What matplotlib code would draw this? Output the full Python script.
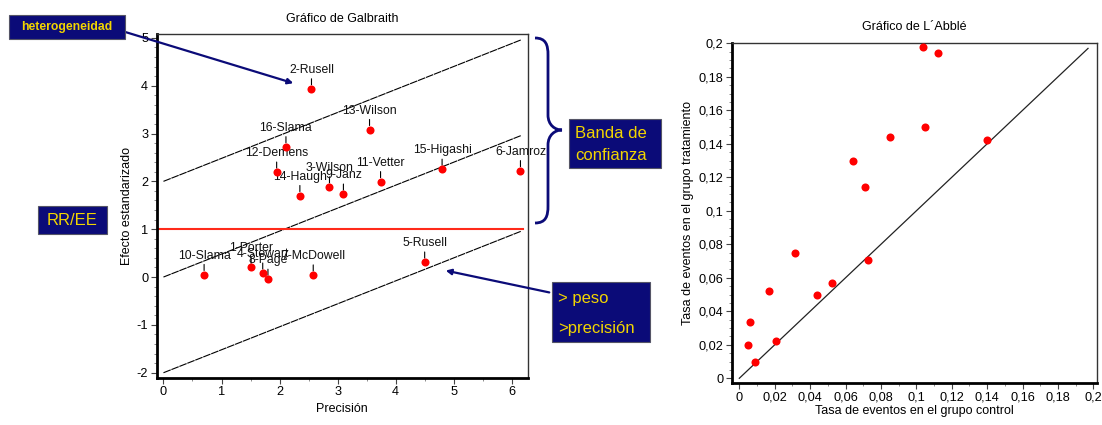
"""
Galbraith and L'Abbe plots for a meta-analysis (two panels, annotated)
"""

import matplotlib
matplotlib.use('Agg')
import matplotlib.pyplot as plt
from matplotlib.path import Path
from matplotlib.patches import PathPatch
from matplotlib.ticker import MultipleLocator, FixedLocator

plt.rcParams['font.family'] = ['Liberation Sans', 'DejaVu Sans']
plt.rcParams['axes.unicode_minus'] = False

# --- Galbraith data (precision, standardized effect) ---
study_labels = ['2-Rusell', '13-Wilson', '16-Slama', '12-Demens', '14-Haugh',
                '3-Wilson', '9-Janz', '11-Vetter', '15-Higashi', '6-Jamroz',
                '10-Slama', '1-Porter', '4-Stewart', '8-Page', '7-McDowell', '5-Rusell']
precision = [2.55, 3.55, 2.11, 1.95, 2.35, 2.86, 3.10, 3.74, 4.80, 6.15,
             0.70, 1.51, 1.71, 1.80, 2.58, 4.50]
std_effect = [3.93, 3.08, 2.72, 2.19, 1.70, 1.88, 1.73, 1.99, 2.25, 2.22,
              0.05, 0.20, 0.08, -0.05, 0.04, 0.31]
band_slope = 0.48
band_intercepts = [-2, 0, 2]
band_x = [0, 6.16]
ref_effect = 1.0
galb_xticks = [0, 1, 2, 3, 4, 5, 6]
galb_yticks = [-2, -1, 0, 1, 2, 3, 4, 5]

# --- L'Abbe data (control rate, treatment rate) ---
control_rate = [0.104, 0.112, 0.105, 0.085, 0.064, 0.071, 0.140, 0.0313,
                0.0166, 0.006, 0.0047, 0.009, 0.0209, 0.0437, 0.0524, 0.0725]
treat_rate = [0.198, 0.194, 0.150, 0.144, 0.130, 0.114, 0.142, 0.0746,
              0.052, 0.0334, 0.0197, 0.010, 0.0225, 0.0498, 0.0571, 0.0704]
diag_x = [0, 0.197]
labbe_ticks = [0, 0.02, 0.04, 0.06, 0.08, 0.1, 0.12, 0.14, 0.16, 0.18, 0.2]
labbe_ticklabels = ['0', '0,02', '0,04', '0,06', '0,08', '0,1',
                    '0,12', '0,14', '0,16', '0,18', '0,2']

NAVY = '#0b0b78'
YELLOW = '#f2d500'
W, H = 1102, 425


def fx(px):
    return px / W


def fy(py):
    return 1 - py / H


def style_axes(ax):
    for side in ['top', 'right']:
        ax.spines[side].set_linewidth(1.0)
        ax.spines[side].set_color('#333333')
    for side in ['left', 'bottom']:
        ax.spines[side].set_linewidth(2.0)
        ax.spines[side].set_color('black')
    ax.tick_params(which='major', direction='out', length=4, width=0.8,
                   labelsize=9.2, color='#444444', pad=2)
    ax.tick_params(which='minor', direction='out', length=2, width=0.6,
                   color='#777777')


fig = plt.figure(figsize=(W / 100, H / 100), dpi=100)

# ---------------- Galbraith ----------------
ax1 = fig.add_axes([fx(156.5), fy(378), fx(528) - fx(156.5), fy(33.5) - fy(378)])
for c in band_intercepts:
    ax1.plot(band_x, [band_slope * band_x[0] + c, band_slope * band_x[1] + c],
             color='black', lw=0.8, dashes=(7, 0.7))
ax1.plot([-0.08, 6.2], [ref_effect, ref_effect], color='#ff2a1a', lw=1.5)
ax1.plot(precision, std_effect, 'o', color='red', markersize=5.8,
         markeredgewidth=0, zorder=5)
for lab, x, y in zip(study_labels, precision, std_effect):
    ax1.annotate(lab, xy=(x, y), xytext=(0, 13), textcoords='offset pixels',
                 ha='center', va='bottom', fontsize=8.8, color='#111111',
                 arrowprops=dict(arrowstyle='-', color='black', lw=0.8,
                                 shrinkA=0, shrinkB=3))
ax1.set_xlim(-0.12, 6.28)
ax1.set_ylim(-2.11, 5.09)
ax1.set_xticks(galb_xticks)
ax1.set_yticks(galb_yticks)
ax1.xaxis.set_minor_locator(MultipleLocator(0.5))
ax1.yaxis.set_minor_locator(MultipleLocator(0.2))
style_axes(ax1)
ax1.set_title('Gráfico de Galbraith', fontsize=9, pad=8)
ax1.set_xlabel('Precisión', fontsize=9, labelpad=3)
ax1.set_ylabel('Efecto estandarizado', fontsize=9, labelpad=3)

# ---------------- L'Abbe ----------------
ax2 = fig.add_axes([fx(731.7), fy(383.3), fx(1096.7) - fx(731.7), fy(42.7) - fy(383.3)])
ax2.plot(diag_x, diag_x, color='#222222', lw=0.9)
ax2.plot(control_rate, treat_rate, 'o', color='red', markersize=5.8,
         markeredgewidth=0, zorder=5)
ax2.set_xlim(-0.0043, 0.2019)
ax2.set_ylim(-0.003, 0.2004)
ax2.xaxis.set_major_locator(FixedLocator(labbe_ticks))
ax2.yaxis.set_major_locator(FixedLocator(labbe_ticks))
ax2.set_xticklabels(labbe_ticklabels)
ax2.set_yticklabels(labbe_ticklabels)
ax2.xaxis.set_minor_locator(MultipleLocator(0.01))
ax2.yaxis.set_minor_locator(MultipleLocator(0.005))
style_axes(ax2)
ax2.set_title('Gráfico de L´Abblé', fontsize=9, pad=9)
ax2.set_xlabel('Tasa de eventos en el grupo control', fontsize=9, labelpad=1)
ax2.set_ylabel('Tasa de eventos en el grupo tratamiento', fontsize=9, labelpad=3)

# ---------------- callout boxes ----------------
def callout(x0, y0, x1, y1, lines, size, weight='normal', line_y=None):
    fig.patches.append(plt.Rectangle((fx(x0), fy(y1)), fx(x1) - fx(x0), fy(y0) - fy(y1),
                                     transform=fig.transFigure, facecolor=NAVY,
                                     edgecolor='#555566', lw=0.8))
    if line_y is None:
        fig.text(fx((x0 + x1) / 2), fy((y0 + y1) / 2), lines[0], color=YELLOW,
                 fontsize=size, fontweight=weight, ha='center', va='center')
    else:
        for txt, ly in zip(lines, line_y):
            fig.text(fx(x0 + 6), fy(ly), txt, color=YELLOW, fontsize=size,
                     fontweight=weight, ha='left', va='center')


callout(9, 15, 125, 39, ['heterogeneidad'], 8.8, weight='bold')
callout(38, 206, 107, 234, ['RR/EE'], 12)
callout(569, 119, 661, 168, ['Banda de', 'confianza'], 12, line_y=[133, 156])
callout(552, 282, 650, 342, ['> peso', '>precisión'], 12, line_y=[298, 329])

# arrows
fig.add_artist(matplotlib.patches.FancyArrowPatch(
    (fx(122), fy(31)), (fx(296), fy(84)), transform=fig.transFigure,
    arrowstyle='-|>', mutation_scale=8, color=NAVY, lw=1.6))
fig.add_artist(matplotlib.patches.FancyArrowPatch(
    (fx(552), fy(293)), (fx(443), fy(270)), transform=fig.transFigure,
    arrowstyle='-|>', mutation_scale=8, color=NAVY, lw=1.6))

# curly brace
bp = [(535, 38), (546, 38), (548, 45), (548, 55),
      (548, 115),
      (548, 125), (555, 130), (562, 130),
      (555, 130), (548, 135), (548, 145),
      (548, 206),
      (548, 216), (546, 223), (535, 223)]
codes = [Path.MOVETO, Path.CURVE4, Path.CURVE4, Path.CURVE4,
         Path.LINETO,
         Path.CURVE4, Path.CURVE4, Path.CURVE4,
         Path.CURVE4, Path.CURVE4, Path.CURVE4,
         Path.LINETO,
         Path.CURVE4, Path.CURVE4, Path.CURVE4]
brace = Path([(fx(x), fy(y)) for x, y in bp], codes)
fig.add_artist(PathPatch(brace, transform=fig.transFigure, facecolor='none',
                         edgecolor=NAVY, lw=2.0))

fig.savefig('out.png', dpi=100)
